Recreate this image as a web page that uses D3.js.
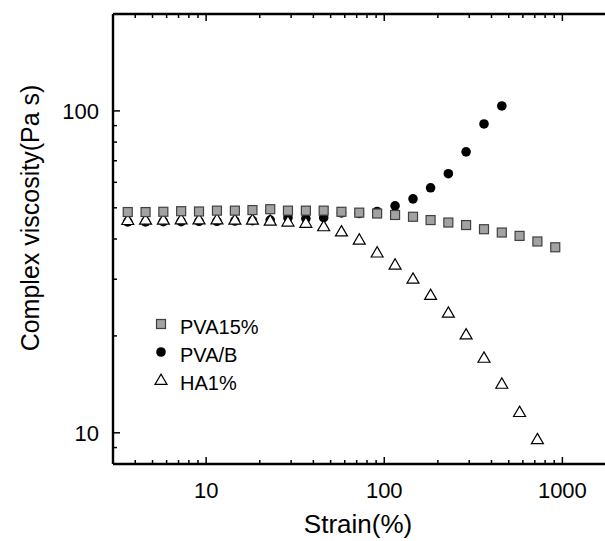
<!DOCTYPE html>
<html lang="en">
<head>
<meta charset="UTF-8">
<title>Complex viscosity vs strain</title>
<script src="https://cdnjs.cloudflare.com/ajax/libs/d3/7.8.5/d3.min.js"></script>
<style>
    * { margin: 0; padding: 0; }
    html, body { overflow: hidden; background: #fff; font-family: "Liberation Sans", Arial, sans-serif; }
    #chart { width: 605px; height: 541px; }
    svg { display: block; }
</style>
</head>
<body>
<div id="chart"></div>
<script>
    // strain points, 10 per decade from ~3.6 %
    const strain = [3.63, 4.57, 5.75, 7.24, 9.12, 11.5, 14.5, 18.2, 22.9, 28.8, 36.3, 45.7, 57.5,
                    72.4, 91.2, 115, 145, 182, 229, 288, 363, 457, 575, 724, 912];

    const pva15 = [48.5, 48.5, 48.6, 48.8, 48.7, 49.0, 49.0, 49.2, 49.5, 49.0, 49.0, 49.0, 48.6,
                   48.3, 48.0, 47.5, 46.9, 45.8, 45.0, 44.2, 42.9, 41.9, 40.9, 39.3, 37.7];
    const pvaB  = [45.2, 45.2, 45.3, 45.3, 45.4, 45.4, 45.5, 45.6, 45.8, 46.6, 46.3, 46.6, 48.2,
                   48.0, 48.7, 50.7, 53.3, 57.7, 63.8, 74.6, 91.1, 103.6];
    const ha1   = [45.8, 45.9, 45.9, 46.0, 46.0, 46.0, 45.9, 45.9, 45.6, 45.3, 44.9, 43.8, 42.2,
                   39.8, 36.3, 33.3, 30.1, 26.8, 23.6, 20.2, 17.1, 14.2, 11.6, 9.55];

    const xTickLabels = [10, 100, 1000];
    const yTickLabels = [10, 100];
    const legendNames = ['PVA15%', 'PVA/B', 'HA1%'];

    const width = 605, height = 541;
    const margin = { left: 113, top: 14, bottom: 77 };
    const plotRight = 616;

    const svg = d3.select('#chart').append('svg')
        .attr('width', width)
        .attr('height', height);

    const x = d3.scaleLog().domain([3, 2000]).range([margin.left, plotRight]);
    const y = d3.scaleLog().domain([8, 200]).range([height - margin.bottom, margin.top]);

    const toPts = vals => vals.map((v, i) => ({ x: strain[i], y: v }));

    // minor ticks: every integer multiple within each decade
    const xMinor = [];
    [1, 10, 100].forEach(d => { for (let m = 1; m <= 9; m++) { const t = d * m; if (t >= 3) xMinor.push(t); } });
    xMinor.push(1000);
    const yMinor = [];
    [1, 10, 100].forEach(d => { for (let m = 1; m <= 9; m++) { const t = d * m; if (t >= 8 && t <= 200) yMinor.push(t); } });

    const isMajor = t => Math.abs(Math.log10(t) - Math.round(Math.log10(t))) < 1e-9;
    const tickLen = t => isMajor(t) ? 7 : 4;

    const axisG = svg.append('g').attr('stroke', '#000');

    // bottom ticks (inward)
    axisG.selectAll('.xb').data(xMinor).enter().append('line')
        .attr('x1', d => x(d)).attr('x2', d => x(d))
        .attr('y1', y(8)).attr('y2', d => y(8) - tickLen(d))
        .attr('stroke-width', 1.5);
    // top ticks
    axisG.selectAll('.xt').data(xMinor).enter().append('line')
        .attr('x1', d => x(d)).attr('x2', d => x(d))
        .attr('y1', y(200)).attr('y2', d => y(200) + tickLen(d))
        .attr('stroke-width', 1.5);
    // left ticks
    axisG.selectAll('.yl').data(yMinor).enter().append('line')
        .attr('y1', d => y(d)).attr('y2', d => y(d))
        .attr('x1', x(3)).attr('x2', d => x(3) + tickLen(d))
        .attr('stroke-width', 1.5);

    // frame: left, top, bottom (right side runs off the page)
    const frame = [
        [x(3), y(200), x(3), y(8)],
        [x(3), y(200), width, y(200)],
        [x(3), y(8), width, y(8)]
    ];
    axisG.selectAll('.frame').data(frame).enter().append('line')
        .attr('x1', d => d[0]).attr('y1', d => d[1])
        .attr('x2', d => d[2]).attr('y2', d => d[3])
        .attr('stroke-width', 2.4);

    // tick labels
    svg.selectAll('.xlab').data(xTickLabels).enter().append('text')
        .attr('x', d => x(d)).attr('y', y(8) + 34)
        .attr('text-anchor', 'middle')
        .attr('font-size', 22)
        .text(d => d);
    svg.selectAll('.ylab').data(yTickLabels).enter().append('text')
        .attr('x', x(3) - 14).attr('y', d => y(d) + 8)
        .attr('text-anchor', 'end')
        .attr('font-size', 22)
        .text(d => d);

    // axis titles
    svg.append('text')
        .attr('x', 358).attr('y', 533)
        .attr('text-anchor', 'middle')
        .attr('font-size', 26)
        .text('Strain(%)');
    svg.append('text')
        .attr('transform', 'translate(39,218) rotate(-90)')
        .attr('text-anchor', 'middle')
        .attr('font-size', 25)
        .text('Complex viscosity(Pa s)');

    const triPath = d3.symbol().type(d3.symbolTriangle).size(62);

    function drawSquares(sel) {
        sel.append('rect').attr('x', -4.5).attr('y', -4.5).attr('width', 9).attr('height', 9)
            .attr('fill', '#a2a2a2').attr('stroke', '#404040').attr('stroke-width', 1.2);
    }
    function drawCircles(sel) {
        sel.append('circle').attr('r', 4.8).attr('fill', '#000');
    }
    function drawTriangles(sel) {
        sel.append('path').attr('d', triPath).attr('transform', 'translate(0,1)')
            .attr('fill', '#fff').attr('stroke', '#000').attr('stroke-width', 1.2);
    }

    // circles first, hollow triangles over them, squares on top
    svg.append('g').selectAll('g').data(toPts(pvaB)).enter().append('g')
        .attr('transform', d => `translate(${x(d.x)},${y(d.y)})`).call(drawCircles);
    svg.append('g').selectAll('g').data(toPts(ha1)).enter().append('g')
        .attr('transform', d => `translate(${x(d.x)},${y(d.y)})`).call(drawTriangles);
    svg.append('g').selectAll('g').data(toPts(pva15)).enter().append('g')
        .attr('transform', d => `translate(${x(d.x)},${y(d.y)})`).call(drawSquares);

    // legend
    const legend = svg.append('g');
    const drawers = [drawSquares, drawCircles, drawTriangles];
    legendNames.forEach((name, i) => {
        const row = legend.append('g').attr('transform', `translate(161,${324 + i * 28})`);
        row.call(drawers[i]);
        row.append('text').attr('x', 19).attr('y', 10).attr('font-size', 20).text(name);
    });
</script>
</body>
</html>
